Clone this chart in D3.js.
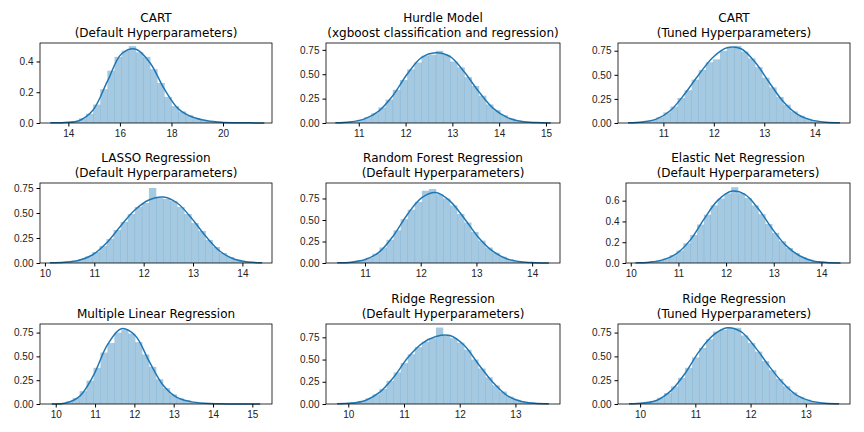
<!DOCTYPE html>
<html><head><meta charset="utf-8">
<script src="https://cdn.jsdelivr.net/npm/d3@7/dist/d3.min.js"></script>
<style>body{margin:0;background:#fff}svg{font-family:"DejaVu Sans",sans-serif}</style>
</head><body><svg width="864" height="432"></svg>
<script>
// titles, x ranges, tick values and estimated densities, one entry per panel
const titles = [
  ["CART", "(Default Hyperparameters)"],
  ["Hurdle Model", "(xgboost classification and regression)"],
  ["CART", "(Tuned Hyperparameters)"],
  ["LASSO Regression", "(Default Hyperparameters)"],
  ["Random Forest Regression", "(Default Hyperparameters)"],
  ["Elastic Net Regression", "(Default Hyperparameters)"],
  ["Multiple Linear Regression"],
  ["Ridge Regression", "(Default Hyperparameters)"],
  ["Ridge Regression", "(Tuned Hyperparameters)"]
];
const ranges = [[13.3,21.6],[10.5,15.1],[10.3,14.5],[10.1,14.4],[10.5,14.3],[10.1,14.4],[9.9,15.2],[9.8,13.6],[9.8,13.6]];
const xView = [[12.9,21.9],[10.3,15.3],[10.1,14.7],[9.9,14.6],[10.3,14.5],[9.9,14.6],[9.6,15.5],[9.6,13.8],[9.6,13.8]];
const xTicks = [[14,16,18,20],[11,12,13,14,15],[11,12,13,14],[10,11,12,13,14],[11,12,13,14],[10,11,12,13,14],[10,11,12,13,14,15],[10,11,12,13],[10,11,12,13]];
const yMax = [0.52,0.82,0.83,0.8,0.93,0.77,0.84,0.9,0.84];
const yTicks = [[0,0.2,0.4],[0,0.25,0.5,0.75],[0,0.25,0.5,0.75],[0,0.25,0.5,0.75],[0,0.25,0.5,0.75],[0,0.2,0.4,0.6],[0,0.25,0.5,0.75],[0,0.25,0.5,0.75],[0,0.25,0.5,0.75]];
const yFmt = [".1f",".2f",".2f",".2f",".2f",".1f",".2f",".2f",".2f"];
const kde = [
  [0.001,0.004,0.015,0.085,0.27,0.45,0.48,0.39,0.22,0.09,0.037,0.015,0.005,0.002,0.001,0.0005],
  [0.002,0.01,0.04,0.12,0.28,0.5,0.67,0.72,0.68,0.52,0.32,0.15,0.055,0.015,0.004,0.001],
  [0.002,0.01,0.04,0.13,0.3,0.5,0.68,0.78,0.77,0.63,0.42,0.22,0.09,0.03,0.008,0.002],
  [0.002,0.008,0.025,0.08,0.2,0.37,0.53,0.63,0.66,0.6,0.45,0.27,0.12,0.04,0.01,0.002],
  [0.002,0.01,0.04,0.13,0.32,0.57,0.76,0.82,0.72,0.52,0.3,0.14,0.05,0.015,0.004,0.001],
  [0.002,0.008,0.03,0.09,0.22,0.42,0.6,0.69,0.66,0.52,0.33,0.17,0.07,0.02,0.005,0.001],
  [0.001,0.01,0.08,0.3,0.62,0.79,0.72,0.45,0.2,0.07,0.025,0.008,0.003,0.001,0.0005,0.0002],
  [0.002,0.01,0.04,0.13,0.3,0.52,0.68,0.76,0.77,0.66,0.45,0.25,0.1,0.03,0.008,0.002],
  [0.002,0.01,0.04,0.14,0.32,0.55,0.72,0.8,0.76,0.6,0.4,0.22,0.09,0.03,0.008,0.002]
];
const hist = [
  [0.001,0.003,0.005,0.012,0.03,0.06,0.12,0.22,0.34,0.43,0.47,0.5,0.46,0.43,0.35,0.26,0.17,0.11,0.075,0.05,0.03,0.02,0.012,0.008,0.004,0.003,0.002,0.001,0.001,0.001],
  [0.004,0.008,0.017,0.032,0.06,0.1,0.16,0.24,0.34,0.44,0.55,0.62,0.69,0.7,0.74,0.7,0.63,0.57,0.47,0.38,0.28,0.19,0.13,0.08,0.045,0.025,0.012,0.006,0.003,0.002],
  [0.004,0.008,0.017,0.032,0.06,0.11,0.17,0.26,0.34,0.45,0.55,0.63,0.66,0.75,0.78,0.8,0.74,0.67,0.58,0.47,0.37,0.27,0.19,0.12,0.075,0.045,0.024,0.014,0.006,0.003],
  [0.003,0.007,0.012,0.021,0.039,0.066,0.11,0.17,0.24,0.33,0.41,0.49,0.56,0.6,0.75,0.65,0.64,0.62,0.56,0.49,0.4,0.32,0.23,0.16,0.1,0.06,0.032,0.017,0.008,0.004],
  [0.004,0.008,0.017,0.032,0.062,0.108,0.18,0.27,0.38,0.51,0.62,0.71,0.84,0.86,0.8,0.75,0.67,0.57,0.47,0.36,0.26,0.18,0.12,0.073,0.041,0.024,0.012,0.006,0.003,0.0015],
  [0.0035,0.0065,0.0135,0.0245,0.045,0.075,0.12,0.19,0.27,0.37,0.465,0.555,0.62,0.67,0.73,0.67,0.625,0.555,0.47,0.375,0.29,0.21,0.145,0.095,0.057,0.032,0.016,0.009,0.004,0.002],
  [0.003,0.008,0.027,0.062,0.135,0.245,0.38,0.54,0.64,0.75,0.78,0.74,0.65,0.52,0.39,0.26,0.167,0.1,0.059,0.036,0.02,0.012,0.007,0.004,0.0025,0.0015,0.001,0.001,0.0005,0.0003],
  [0.004,0.008,0.017,0.032,0.062,0.108,0.17,0.26,0.355,0.46,0.56,0.64,0.7,0.74,0.86,0.77,0.74,0.69,0.61,0.5,0.4,0.3,0.21,0.14,0.082,0.047,0.024,0.014,0.0065,0.0035],
  [0.004,0.008,0.017,0.032,0.065,0.115,0.185,0.275,0.38,0.49,0.59,0.68,0.76,0.78,0.8,0.8,0.72,0.64,0.55,0.45,0.355,0.265,0.187,0.122,0.075,0.045,0.024,0.014,0.0065,0.0035]
];

const svg = d3.select("svg");
const color = "#1f77b4";
const cols = [[40, 272], [326, 560], [618, 850]];
const rows = [43, 183, 324];
const h = 80;

titles.forEach((t, i) => {
  const c = cols[i % 3], top = rows[Math.floor(i / 3)];
  // Elastic net panel has narrower tick labels
  const left = i === 5 ? 626 : c[0];
  const x = d3.scaleLinear().domain(xView[i]).range([left, c[1]]);
  const y = d3.scaleLinear().domain([0, yMax[i]]).range([top + h, top]);
  const g = svg.append("g");

  const [lo, hi] = ranges[i];
  const bw = (hi - lo) / hist[i].length;
  g.selectAll("rect").data(hist[i]).join("rect")
    .attr("x", (d, k) => x(lo + k * bw))
    .attr("width", (d, k) => x(lo + (k + 1) * bw) - x(lo + k * bw) + 0.3)
    .attr("y", d => y(d))
    .attr("height", d => y(0) - y(d))
    .attr("fill", color).attr("fill-opacity", 0.4);

  const step = (hi - lo) / (kde[i].length - 1);
  g.append("path").datum(kde[i])
    .attr("d", d3.line().x((d, k) => x(lo + k * step)).y(d => y(d)).curve(d3.curveCatmullRom))
    .attr("fill", "none").attr("stroke", color).attr("stroke-width", 1.5);

  g.append("g").attr("transform", `translate(0,${top + h})`)
    .call(d3.axisBottom(x).tickValues(xTicks[i]).tickFormat(d3.format("d")).tickSize(3.5).tickSizeOuter(0))
    .call(a => a.select(".domain").remove())
    .call(a => a.selectAll("text").attr("font-size", 10).attr("fill", "#222"));
  g.append("g").attr("transform", `translate(${left},0)`)
    .call(d3.axisLeft(y).tickValues(yTicks[i]).tickFormat(d3.format(yFmt[i])).tickSize(3.5).tickSizeOuter(0))
    .call(a => a.select(".domain").remove())
    .call(a => a.selectAll("text").attr("font-size", 10).attr("fill", "#222"));
  g.append("rect").attr("x", left).attr("y", top).attr("width", c[1] - left).attr("height", h)
    .attr("fill", "none").attr("stroke", "#000").attr("stroke-width", 0.8);

  const cx = (left + c[1]) / 2;
  t.forEach((line, j) => {
    g.append("text").attr("x", cx).attr("y", top - 6 - (t.length - 1 - j) * 15)
      .attr("text-anchor", "middle").attr("font-size", 12).attr("fill", "#000").text(line);
  });
});
</script></body></html>
